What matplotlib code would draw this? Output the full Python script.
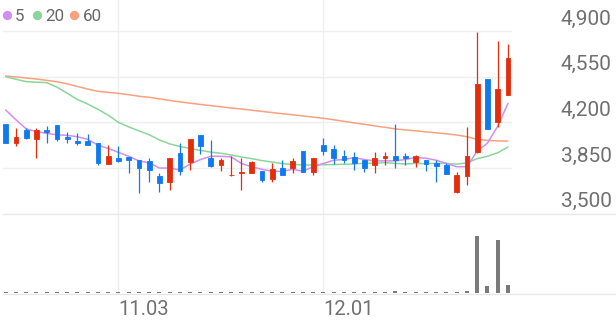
import matplotlib
matplotlib.use("Agg")
import matplotlib.pyplot as plt
from matplotlib.lines import Line2D
from matplotlib import transforms as mtransforms

plt.rcParams['font.family'] = ['Roboto', 'DejaVu Sans']

# ---------------- data ----------------
opens = [4185, 4040, 4140, 4070, 4145, 4180, 4085, 4060, 4060, 4040,
         3880, 3930, 3935, 3915, 3900, 3790, 3740, 3965, 3895, 4100,
         3930, 3870, 3795, 3810, 3815, 3825, 3765, 3850, 3850, 3980,
         3820, 4025, 3995, 3940, 3935, 3915, 3875, 3925, 3940, 3945,
         3895, 3910, 3885, 3870, 3670, 3790, 3975, 4535, 4205, 4410]
highs = [4190, 4155, 4155, 4155, 4170, 4180, 4125, 4115, 4110, 4040,
         4025, 4020, 3935, 3915, 3925, 3810, 3925, 4040, 4070, 4100,
         4065, 3930, 3940, 3925, 3905, 3825, 3885, 3915, 3925, 3980,
         3930, 4080, 4030, 3985, 3970, 3915, 3975, 3970, 4185, 3965,
         3950, 3910, 3915, 3890, 3820, 4165, 4895, 4535, 4820, 4800]
lows = [4045, 4020, 4070, 3930, 4045, 4060, 4045, 4025, 4030, 3875,
        3880, 3900, 3810, 3655, 3740, 3670, 3680, 3795, 3835, 3955,
        3860, 3830, 3790, 3680, 3810, 3745, 3740, 3795, 3815, 3820,
        3795, 3950, 3880, 3885, 3835, 3820, 3810, 3870, 3850, 3875,
        3860, 3830, 3745, 3805, 3655, 3720, 3965, 4150, 4165, 4410]
closes = [4045, 4090, 4080, 4140, 4125, 4070, 4070, 4040, 4030, 3890,
          3945, 3905, 3910, 3850, 3835, 3735, 3925, 3830, 4070, 4015,
          3865, 3915, 3800, 3820, 3895, 3760, 3840, 3795, 3900, 3820,
          3930, 3980, 3925, 3915, 3890, 3850, 3925, 3940, 3915, 3930,
          3940, 3880, 3865, 3805, 3795, 3940, 4495, 4150, 4455, 4690]
ma5 = [4295, 4220, 4150, 4130, 4115, 4105, 4100, 4090, 4070, 4025,
       4000, 3970, 3940, 3905, 3890, 3850, 3850, 3835, 3880, 3915,
       3940, 3940, 3935, 3885, 3860, 3840, 3825, 3825, 3840, 3825,
       3860, 3885, 3910, 3915, 3930, 3915, 3905, 3905, 3905, 3915,
       3930, 3925, 3910, 3885, 3860, 3860, 3980, 4040, 4170, 4345]
ma20 = [4550, 4530, 4512, 4508, 4504, 4470, 4423, 4375, 4340, 4300,
        4255, 4200, 4165, 4135, 4105, 4065, 4035, 4015, 4000, 3985,
        3972, 3963, 3950, 3935, 3922, 3907, 3896, 3884, 3877, 3874,
        3873, 3876, 3876, 3879, 3881, 3887, 3887, 3892, 3885, 3881,
        3885, 3883, 3886, 3885, 3880, 3889, 3922, 3940, 3967, 4011]
ma60 = [4555, 4548, 4540, 4532, 4522, 4511, 4495, 4475, 4455, 4438,
        4430, 4422, 4412, 4400, 4392, 4380, 4368, 4357, 4347, 4337,
        4328, 4319, 4310, 4302, 4293, 4284, 4275, 4266, 4258, 4249,
        4240, 4231, 4220, 4208, 4196, 4185, 4173, 4162, 4150, 4142,
        4135, 4127, 4120, 4112, 4103, 4090, 4070, 4062, 4058, 4057]
volumes = [1.9, 1.7, 1.7, 2.3, 1.7, 1.7, 1.7, 1.7, 1.9, 2.6,
           1.9, 1.7, 1.7, 1.9, 1.7, 1.9, 1.9, 1.7, 1.9, 1.7,
           1.7, 1.6, 1.7, 1.7, 1.7, 1.7, 1.7, 1.6, 1.7, 1.7,
           1.7, 2.3, 1.7, 1.7, 1.7, 1.7, 1.7, 1.7, 4.5, 1.7,
           1.7, 1.7, 1.7, 1.7, 1.9, 4.0, 100, 12, 92, 14.5]
ma_labels = ['5', '20', '60']
y_ticks = [4900, 4550, 4200, 3850, 3500]
x_tick_idx = [11, 31]
x_tick_labels = ['11.03', '12.01']

# ---------------- style ----------------
UP = '#e42d0c'
DOWN = '#0f7af0'
MA_COLORS = ['#d28ef0', '#8ad69a', '#f8a17c']
GRID = '#efefef'
TXT = '#707070'

W, H = 616, 321
fig = plt.figure(figsize=(W / 100, H / 100), dpi=100)


def frame(x0, y0, x1, y1):
    return [x0 / W, 1 - y1 / H, (x1 - x0) / W, (y1 - y0) / H]


n = len(closes)
xs = list(range(n))

ax = fig.add_axes(frame(3, 31, 511, 213.7))
ax.set_xlim(-0.263, 49.3)
ax.set_ylim(y_ticks[-1], y_ticks[0])
ax.axis('off')

axv = fig.add_axes(frame(3, 225, 511, 293.3))
axv.set_xlim(-0.263, 49.3)
axv.set_ylim(0, 118.6)
axv.axis('off')

# horizontal grid lines
for v in y_ticks[:-1]:
    ax.axhline(v, color=GRID, lw=1.0, zorder=0, clip_on=False)
# bottom line of price panel and volume baseline (full width)
fig.add_artist(Line2D([3 / W, 1], [1 - 213.7 / H] * 2, transform=fig.transFigure,
                      color='#e8e8e8', lw=1.0))
fig.add_artist(Line2D([3 / W, 1], [1 - 293.8 / H] * 2, transform=fig.transFigure,
                      color='#e8e8e8', lw=1.0, zorder=0))

# vertical grid lines
vtrans = mtransforms.blended_transform_factory(ax.transData, fig.transFigure)
for idx in x_tick_idx:
    fig.add_artist(Line2D([idx, idx], [1, 1 - 293.3 / H], transform=vtrans,
                          color=GRID, lw=1.0, zorder=0))

# moving averages
for vals, col in zip([ma60, ma20, ma5], MA_COLORS[::-1]):
    ax.plot(xs, vals, color=col, lw=1.1, zorder=1, solid_capstyle='round')

# candles
colors = [UP if c >= o else DOWN for o, c in zip(opens, closes)]
ax.vlines(xs, lows, highs, colors=colors, lw=0.9, zorder=2)
bottoms = [min(o, c) for o, c in zip(opens, closes)]
heights = [abs(c - o) for o, c in zip(opens, closes)]
ax.bar(xs, heights, bottom=bottoms, width=0.46, color=colors, edgecolor=colors,
       linewidth=0.6, zorder=3)

# volume bars
axv.bar(xs, volumes, width=0.39, color='#7a7a7a', linewidth=0, zorder=2)

# y labels (right side, above grid lines)
ytrans = mtransforms.offset_copy(
    mtransforms.blended_transform_factory(fig.transFigure, ax.transData),
    fig=fig, x=0, y=6.5 * 0.72, units='points')
for v in y_ticks:
    fig.text(611.7 / W, v, f"{v:,}", transform=ytrans, ha='right', va='baseline',
             fontsize=15, color=TXT)

# x labels
xtrans = mtransforms.blended_transform_factory(ax.transData, fig.transFigure)
for idx, lab in zip(x_tick_idx, x_tick_labels):
    fig.text(idx, 1 - 314.7 / H, lab, transform=xtrans, ha='left', va='baseline',
             fontsize=14.5, color=TXT)

# legend
leg_dots = [6.7, 37, 74]
leg_text = [15, 45.5, 83]
for dx, tx, lab, col in zip(leg_dots, leg_text, ma_labels, MA_COLORS):
    fig.add_artist(Line2D([dx / W], [1 - 15 / H], transform=fig.transFigure,
                          marker='o', markersize=6.7, color=col, markeredgewidth=0))
    fig.text(tx / W, 1 - 21 / H, lab, ha='left', va='baseline', fontsize=12.2,
             color='#666666')

fig.savefig('out.png', dpi=100)
